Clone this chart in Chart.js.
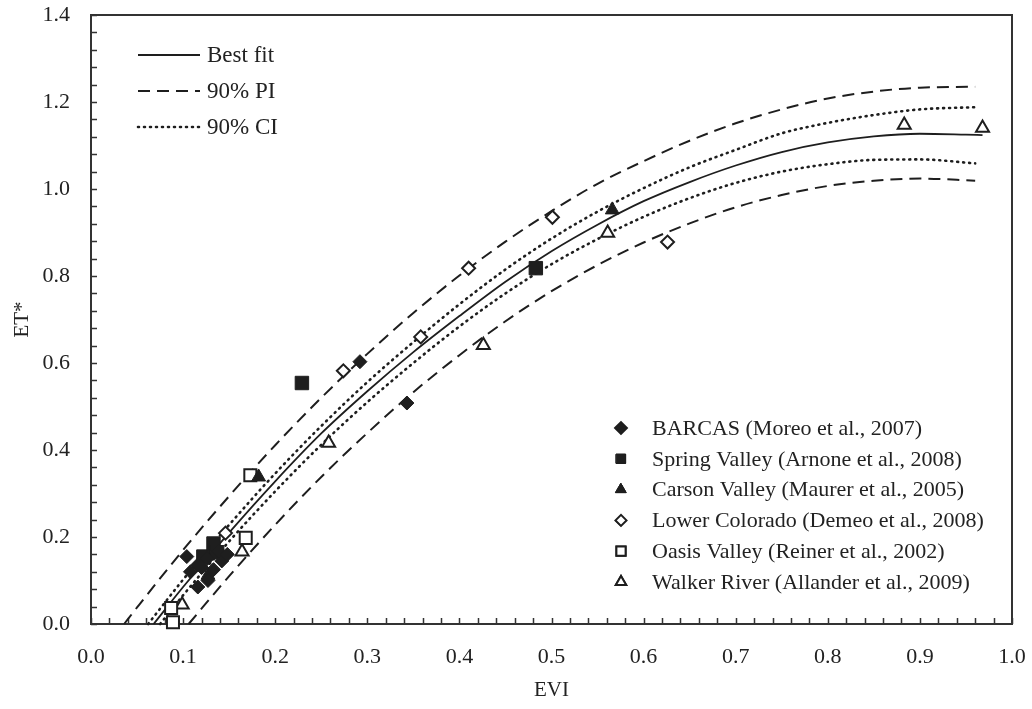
<!DOCTYPE html>
<html>
<head>
<meta charset="utf-8">
<script src="https://cdn.jsdelivr.net/npm/chart.js@4.4.1/dist/chart.umd.min.js"></script>
<style>
  html, body { margin: 0; padding: 0; background: #fff; }
  #wrap { width: 1032px; height: 709px; }
</style>
</head>
<body>
<div id="wrap"><canvas id="myChart" width="1032" height="709"></canvas></div>
<script>
// curves
const fitX = [0.068, 0.1, 0.15, 0.2, 0.25, 0.3, 0.35, 0.4, 0.45, 0.5, 0.55, 0.6, 0.65, 0.7, 0.75, 0.8, 0.85, 0.9, 0.95, 0.968];
const fitY = [0.0, 0.085, 0.210, 0.328, 0.438, 0.535, 0.625, 0.708, 0.787, 0.857, 0.918, 0.972, 1.016, 1.054, 1.085, 1.107, 1.121, 1.127, 1.125, 1.124];

const piUpX = [0.036, 0.05, 0.1, 0.15, 0.2, 0.25, 0.3, 0.35, 0.4, 0.45, 0.5, 0.55, 0.6, 0.65, 0.7, 0.75, 0.8, 0.85, 0.9, 0.96];
const piUpY = [0.0, 0.038, 0.170, 0.294, 0.411, 0.520, 0.621, 0.715, 0.801, 0.879, 0.949, 1.012, 1.064, 1.111, 1.151, 1.183, 1.208, 1.224, 1.233, 1.235];

const piLowX = [0.106, 0.15, 0.2, 0.25, 0.3, 0.35, 0.4, 0.45, 0.5, 0.55, 0.6, 0.65, 0.7, 0.75, 0.8, 0.85, 0.9, 0.96];
const piLowY = [0.0, 0.110, 0.228, 0.338, 0.439, 0.533, 0.618, 0.696, 0.765, 0.825, 0.877, 0.921, 0.958, 0.986, 1.007, 1.019, 1.024, 1.019];

const ciUpX = [0.062, 0.1, 0.15, 0.2, 0.25, 0.3, 0.35, 0.4, 0.45, 0.5, 0.55, 0.6, 0.65, 0.7, 0.75, 0.8, 0.85, 0.9, 0.96];
const ciUpY = [0.0, 0.102, 0.228, 0.346, 0.455, 0.556, 0.648, 0.735, 0.815, 0.886, 0.948, 1.002, 1.050, 1.090, 1.128, 1.152, 1.170, 1.183, 1.188];

const ciLowX = [0.075, 0.1, 0.15, 0.2, 0.25, 0.3, 0.35, 0.4, 0.45, 0.5, 0.55, 0.6, 0.65, 0.7, 0.75, 0.8, 0.85, 0.9, 0.96];
const ciLowY = [0.0, 0.066, 0.190, 0.305, 0.412, 0.510, 0.600, 0.684, 0.760, 0.827, 0.885, 0.936, 0.979, 1.014, 1.040, 1.057, 1.067, 1.068, 1.059];

// observed sites
const barcasX = [0.104, 0.116, 0.108, 0.116, 0.127, 0.142, 0.138, 0.126, 0.12, 0.133, 0.148, 0.292, 0.343];
const barcasY = [0.155, 0.136, 0.12, 0.085, 0.10, 0.145, 0.168, 0.15, 0.13, 0.125, 0.16, 0.603, 0.508];

const springX = [0.122, 0.133, 0.137, 0.229, 0.483];
const springY = [0.155, 0.185, 0.165, 0.554, 0.818];

const carsonX = [0.127, 0.182, 0.566];
const carsonY = [0.112, 0.338, 0.952];

const lowerX = [0.146, 0.274, 0.358, 0.41, 0.501, 0.626];
const lowerY = [0.209, 0.582, 0.66, 0.818, 0.935, 0.878];

const oasisX = [0.087, 0.089, 0.168, 0.173];
const oasisY = [0.037, 0.004, 0.198, 0.342];

const walkerX = [0.099, 0.164, 0.258, 0.426, 0.561, 0.883, 0.968];
const walkerY = [0.044, 0.166, 0.416, 0.641, 0.899, 1.147, 1.14];

const siteNames = [
  'BARCAS (Moreo et al., 2007)',
  'Spring Valley (Arnone et al., 2008)',
  'Carson Valley (Maurer et al., 2005)',
  'Lower Colorado (Demeo et al., 2008)',
  'Oasis Valley (Reiner et al., 2002)',
  'Walker River (Allander et al., 2009)'
];
const curveNames = ['Best fit', '90% PI', '90% CI'];

const ink = '#1e1e1e';
const fontFam = '"Liberation Serif", "Times New Roman", serif';

const pts = (xs, ys) => xs.map((x, i) => ({ x: x, y: ys[i] }));

const site = (label, xs, ys, style, r, filled) => ({
  label: label,
  data: pts(xs, ys),
  pointStyle: style,
  pointRadius: r,
  pointHoverRadius: r,
  pointBackgroundColor: filled ? ink : '#fff',
  pointBorderColor: ink,
  pointBorderWidth: filled ? 1 : 2,
  showLine: false,
  clip: false
});

const curve = (label, xs, ys, dash, width) => ({
  label: label,
  data: pts(xs, ys),
  showLine: true,
  pointRadius: 0,
  borderColor: ink,
  borderWidth: width,
  borderDash: dash,
  borderCapStyle: dash.length && dash[0] < 3 ? 'round' : 'butt',
  cubicInterpolationMode: 'monotone',
  fill: false,
  clip: false
});

const siteSets = [
  site(siteNames[0], barcasX, barcasY, 'rectRot', 7, true),
  site(siteNames[1], springX, springY, 'rect', 9.5, true),
  site(siteNames[2], carsonX, carsonY, 'triangle', 8, true),
  site(siteNames[3], lowerX, lowerY, 'rectRot', 6.5, false),
  site(siteNames[4], oasisX, oasisY, 'rect', 8.5, false),
  site(siteNames[5], walkerX, walkerY, 'triangle', 7.5, false)
];

const curveSets = [
  curve(curveNames[0], fitX, fitY, [], 1.8),
  curve(curveNames[1], piUpX, piUpY, [12, 7], 2),
  curve(curveNames[1], piLowX, piLowY, [12, 7], 2),
  curve(curveNames[2], ciUpX, ciUpY, [1, 5], 2.6),
  curve(curveNames[2], ciLowX, ciLowY, [1, 5], 2.6)
];

// frame, inner ticks and the two legends
const decor = {
  id: 'decor',
  beforeDatasetsDraw(chart) {
    const ctx = chart.ctx;
    const a = chart.chartArea;
    const xs = chart.scales.x, ys = chart.scales.y;
    ctx.save();
    ctx.strokeStyle = '#333';
    ctx.lineWidth = 2;
    ctx.strokeRect(a.left, a.top, a.right - a.left, a.bottom - a.top);
    ctx.lineWidth = 1.5;
    ctx.beginPath();
    for (let i = 0; i <= 50; i++) {
      const px = Math.round(xs.getPixelForValue(i * 0.02)) + 0.5;
      ctx.moveTo(px, a.bottom);
      ctx.lineTo(px, a.bottom - 6);
    }
    for (let i = 0; i <= 35; i++) {
      const py = Math.round(ys.getPixelForValue(i * 0.04)) + 0.5;
      ctx.moveTo(a.left, py);
      ctx.lineTo(a.left + 6, py);
    }
    ctx.stroke();
    ctx.restore();
  },
  afterDraw(chart) {
    const ctx = chart.ctx;
    ctx.save();
    ctx.fillStyle = '#222';
    ctx.font = '23px ' + fontFam;
    ctx.textBaseline = 'middle';
    // curve legend
    const lineRows = [55, 91, 127];
    lineRows.forEach((y, i) => {
      const ds = curveSets[i === 0 ? 0 : i === 1 ? 1 : 3];
      ctx.strokeStyle = ink;
      ctx.lineWidth = ds.borderWidth;
      ctx.setLineDash(ds.borderDash);
      ctx.lineCap = ds.borderCapStyle;
      ctx.beginPath();
      ctx.moveTo(138, y);
      ctx.lineTo(200, y);
      ctx.stroke();
      ctx.setLineDash([]);
      ctx.fillText(curveNames[i], 207, y + 1);
    });
    // site legend
    ctx.font = '22px ' + fontFam;
    siteSets.forEach((ds, i) => {
      const y = 428 + i * 30.8;
      const r = ds.pointStyle === 'rect' ? 6.5 : ds.pointStyle === 'triangle' ? 6 : 5.5;
      Chart.helpers.drawPoint(ctx, {
        pointStyle: ds.pointStyle,
        radius: r,
        rotation: 0,
        borderWidth: ds.pointBorderWidth
      }, 621, y);
      ctx.fillStyle = ds.pointBackgroundColor;
      ctx.strokeStyle = ink;
      ctx.lineWidth = ds.pointBorderWidth;
      ctx.fill();
      ctx.stroke();
      ctx.fillStyle = '#222';
      ctx.fillText(ds.label, 652, y + 1);
    });
    ctx.restore();
  }
};

const noEdgePad = (s) => {
  s.paddingTop = 0;
  s.paddingBottom = 0;
  s.paddingLeft = 0;
  s.paddingRight = 0;
};

const ctx = document.getElementById('myChart');

const myChart = new Chart(ctx, {
  type: 'scatter',
  data: { datasets: siteSets.concat(curveSets) },
  plugins: [decor],
  options: {
    responsive: false,
    animation: false,
    layout: { padding: { top: 15, right: 20, left: 0, bottom: 0 } },
    plugins: {
      legend: { display: false },
      tooltip: { enabled: false }
    },
    scales: {
      x: {
        type: 'linear',
        min: 0,
        max: 1,
        afterFit: (s) => { s.height = 85; noEdgePad(s); },
        grid: { display: false, drawTicks: false },
        border: { display: true, color: '#333', width: 2 },
        ticks: {
          stepSize: 0.1,
          padding: 20,
          color: '#222',
          font: { family: fontFam, size: 22 },
          callback: (v) => v.toFixed(1)
        },
        title: {
          display: true,
          text: 'EVI',
          color: '#222',
          font: { family: fontFam, size: 21 },
          padding: { top: 0, bottom: 6 }
        }
      },
      y: {
        type: 'linear',
        min: 0,
        max: 1.4,
        afterFit: (s) => { s.width = 91; noEdgePad(s); },
        grid: { display: false, drawTicks: false },
        border: { display: true, color: '#333', width: 2 },
        ticks: {
          stepSize: 0.2,
          padding: 21,
          color: '#222',
          font: { family: fontFam, size: 22 },
          callback: (v) => v.toFixed(1)
        },
        title: {
          display: true,
          text: 'ET*',
          color: '#222',
          font: { family: fontFam, size: 21 },
          padding: { top: 10, bottom: 0 }
        }
      }
    }
  }
});
</script>
</body>
</html>
